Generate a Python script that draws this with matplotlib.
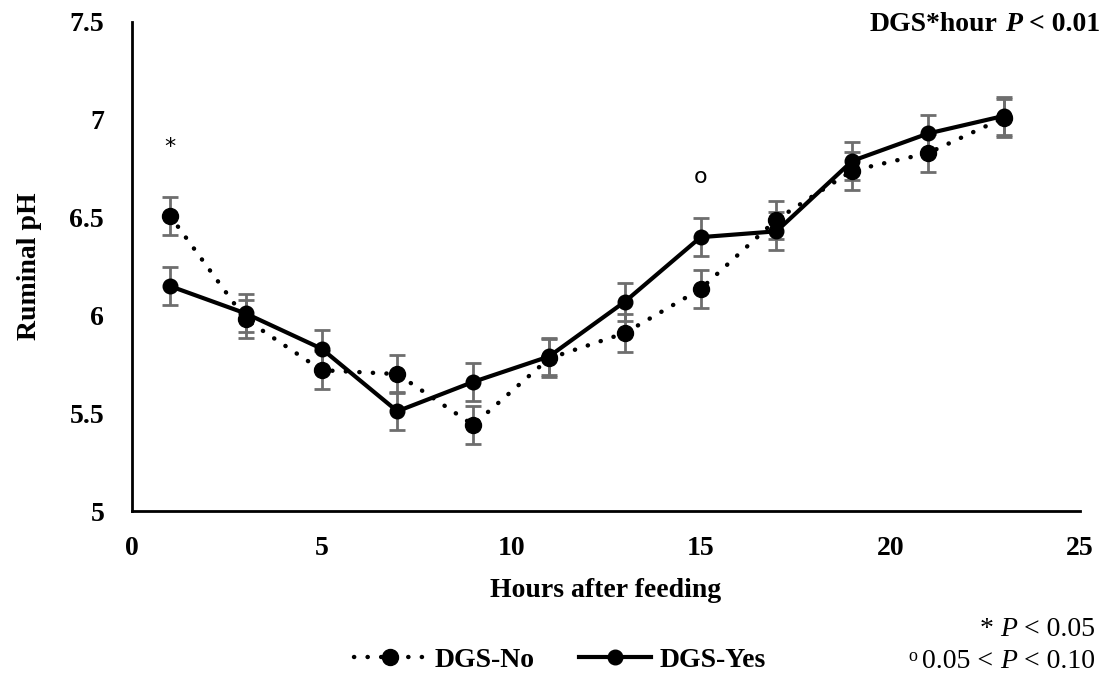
import matplotlib.pyplot as plt
from matplotlib.lines import Line2D

# ruminal pH by hour after feeding, with and without DGS
hours = [1, 3, 5, 7, 9, 11, 13, 15, 17, 19, 21, 23]
ph_no = [6.51, 5.98, 5.72, 5.70, 5.44, 5.78, 5.91, 6.135, 6.49, 6.74, 6.83, 7.01]
ph_yes = [6.15, 6.01, 5.83, 5.51, 5.66, 5.79, 6.07, 6.40, 6.43, 6.79, 6.93, 7.02]
sem = 0.097

# significance marks per hour
mark_hours = [1, 15]
mark_text = ['*', 'o']
mark_y = [6.86, 6.71]

plt.rcParams['font.family'] = 'Liberation Serif'
plt.rcParams['font.size'] = 20
plt.rcParams['font.weight'] = 'bold'

fig = plt.figure(figsize=(11.12, 6.79), dpi=100)
ax = fig.add_axes([0.1187, 0.2474, 0.8523, 0.7202])

err_color = '#6e6e6e'
ax.errorbar(hours, ph_no, yerr=sem, fmt='none', ecolor=err_color,
            elinewidth=2, capsize=6, capthick=2, zorder=2)
ax.errorbar(hours, ph_yes, yerr=sem, fmt='none', ecolor=err_color,
            elinewidth=2, capsize=6, capthick=2, zorder=2)

dotted = dict(color='black', linewidth=3.2, linestyle=(0, (0.05, 3.0)),
              dash_capstyle='round', marker='o', markersize=11.5)
solid = dict(color='black', linewidth=3.0, linestyle='-', marker='o', markersize=10.5)

ax.plot(hours, ph_no, zorder=3, **dotted)
ax.plot(hours, ph_yes, zorder=4, **solid)

for h, s, y in zip(mark_hours, mark_text, mark_y):
    ax.text(h, y, s, ha='center', va='center', fontsize=16,
            fontweight='normal', family='DejaVu Sans')

ax.set_xlim(0, 25)
ax.set_ylim(5, 7.5)
ax.set_xticks([0, 5, 10, 15, 20, 25])
ax.set_yticks([5, 5.5, 6, 6.5, 7, 7.5])
ax.set_yticklabels(['5', '5.5', '6', '6.5', '7', '7.5'])
ax.tick_params(axis='both', length=0, labelsize=20)
ax.tick_params(axis='y', pad=20)
ax.tick_params(axis='x', pad=18)
for side in ['top', 'right']:
    ax.spines[side].set_visible(False)
for side in ['left', 'bottom']:
    ax.spines[side].set_linewidth(2)

ax.set_xlabel('Hours after feeding', fontsize=20, fontweight='bold', labelpad=12)
ax.set_ylabel('Ruminal pH', fontsize=20, fontweight='bold', labelpad=20)


def chain(x, y, pieces):
    # pieces: (text, style, space on its left in points, rise in points)
    # laid out right to left so the whole line ends at x
    text, kw, gap, rise = pieces[-1]
    anchor = fig.text(x, y, text, ha='right', va='bottom', **kw)
    right_gap, right_rise = gap, rise
    for text, kw, gap, rise in reversed(pieces[:-1]):
        anchor = ax.annotate(text, xy=(0, 0), xycoords=anchor,
                             xytext=(-right_gap, rise - right_rise),
                             textcoords='offset points', ha='right', va='bottom',
                             annotation_clip=False, **kw)
        right_gap, right_rise = gap, rise


bold = dict(fontsize=20, fontweight='bold')
bold_it = dict(fontsize=20, fontweight='bold', style='italic')
reg = dict(fontsize=20, fontweight='normal')
reg_it = dict(fontsize=20, fontweight='normal', style='italic')
small = dict(fontsize=13, fontweight='normal')

chain(0.989, 0.945, [('DGS*hour', bold, 0, 0), ('P', bold_it, 5, 0),
                     ('< 0.01', bold, 5, 0)])
chain(0.985, 0.055, [('*', reg, 0, 0), ('P', reg_it, 5, 0),
                     ('< 0.05', reg, 5, 0)])
chain(0.985, 0.007, [('o', small, 0, 7), ('0.05 <', reg, 4, 0),
                     ('P', reg_it, 5, 0), ('< 0.10', reg, 5, 0)])

handles = [Line2D([], [], **dotted), Line2D([], [], **solid)]
fig.legend(handles, ['DGS-No', 'DGS-Yes'], loc='center', ncol=2,
           bbox_to_anchor=(0.5036, 0.028), frameon=False, handlelength=2.6,
           handletextpad=0.3, columnspacing=1.6,
           prop=dict(family='Liberation Serif', size=20, weight='bold'))

fig.savefig('out.png', dpi=100)
